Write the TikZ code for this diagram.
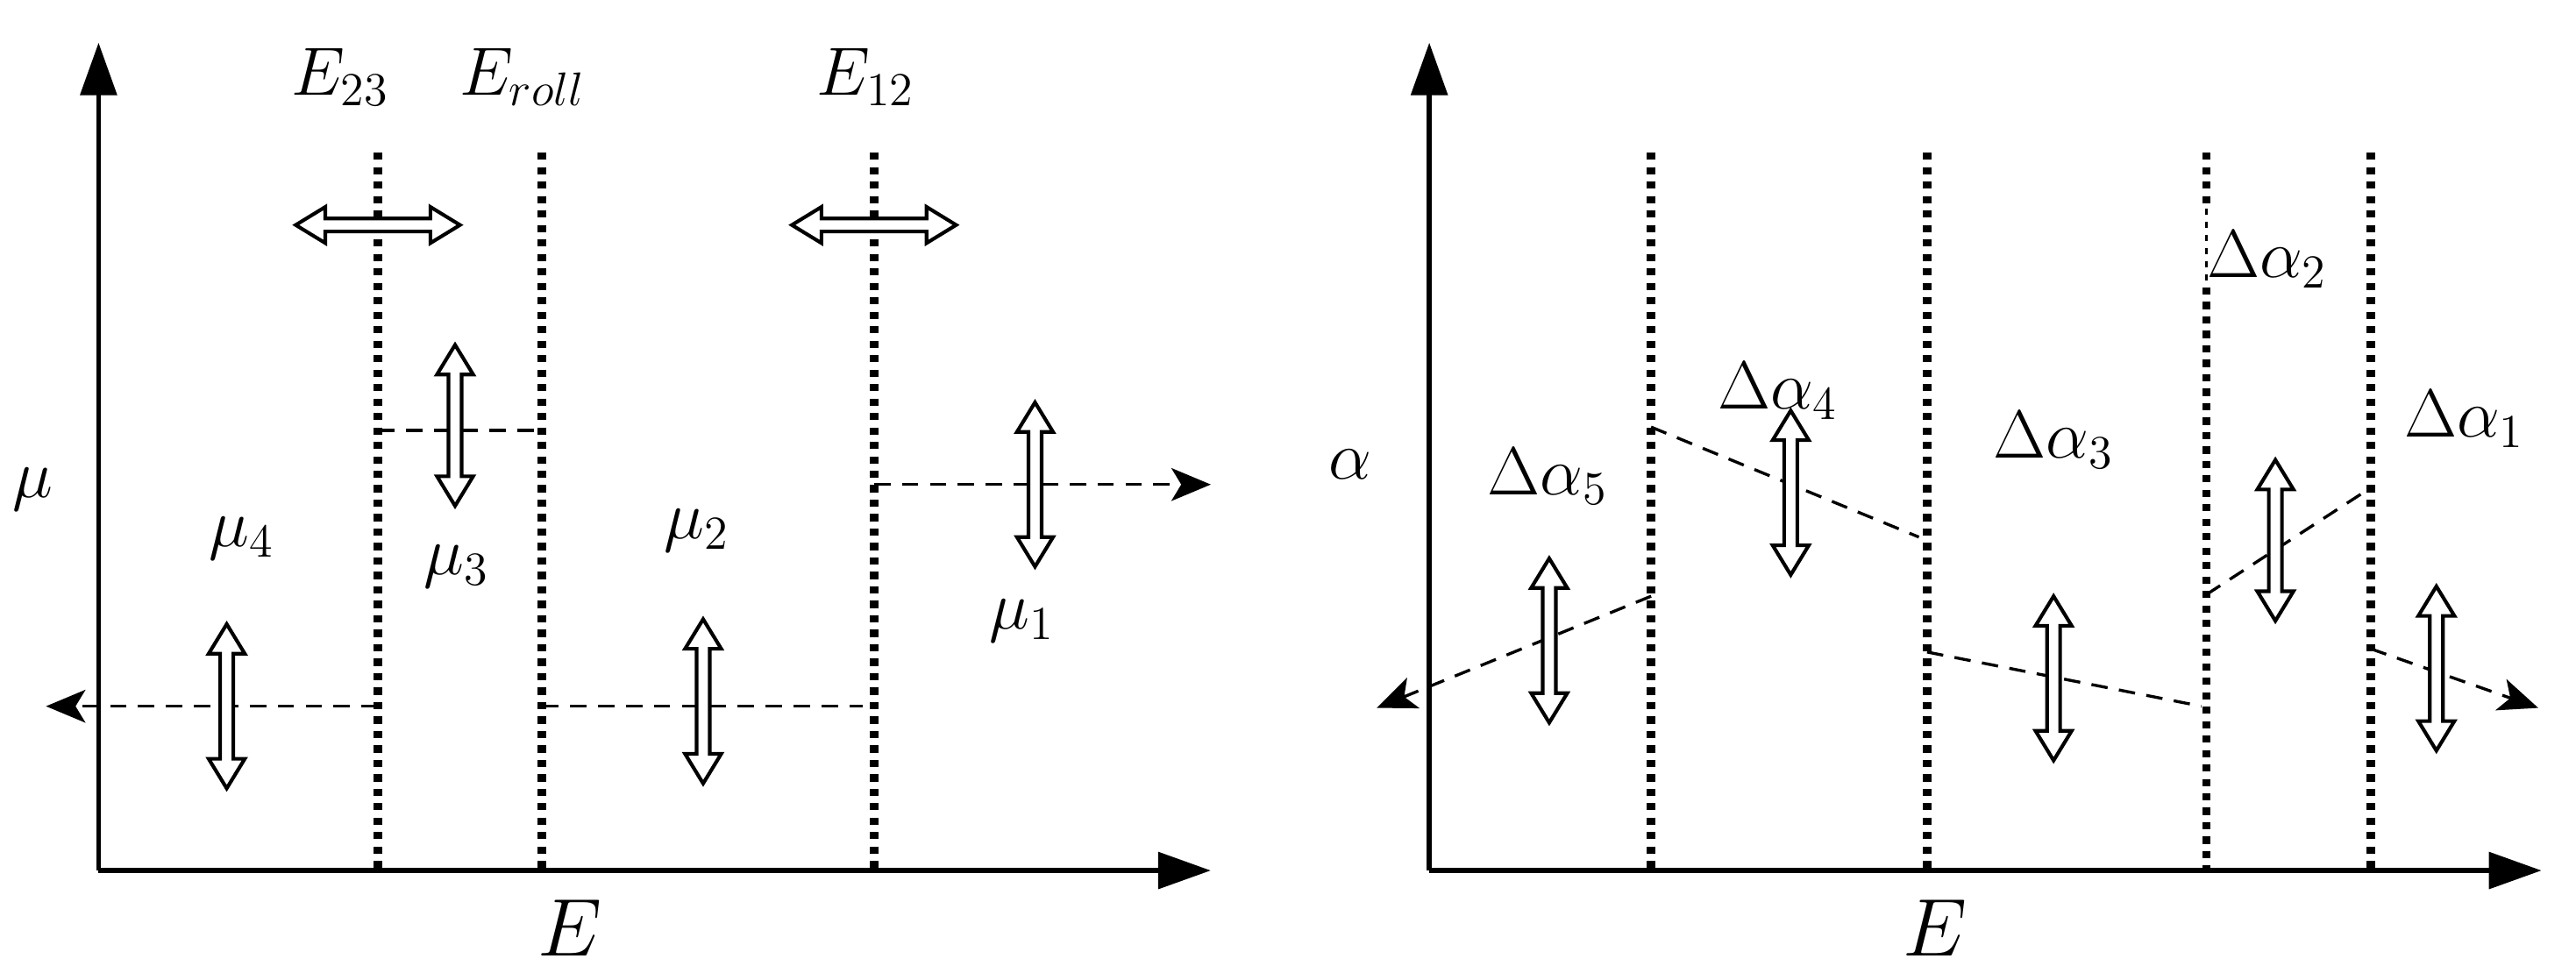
\documentclass[tikz,border=0pt]{standalone}
\usetikzlibrary{arrows.meta}
\newcommand{\darw}[4]{%
 \draw[darr,shift={(#1,#2)},rotate=#4] (-#3/2,0) -- (-#3/2+18,11) -- (-#3/2+18,4) -- (#3/2-18,4) -- (#3/2-18,11) -- (#3/2,0) -- (#3/2-18,-11) -- (#3/2-18,-4) -- (-#3/2+18,-4) -- (-#3/2+18,-11) -- cycle;}
\begin{document}
\begin{tikzpicture}[x=0.5pt,y=-0.5pt,
 ax/.style={line width=1.5pt,-{Stealth[length=16pt,width=11pt,inset=0pt]}},
 dot/.style={line width=2.6pt,dash pattern=on 2.2pt off 2.2pt},
 dsh/.style={line width=0.9pt,dash pattern=on 5pt off 3.5pt},
 dsha/.style={dsh,-{Stealth[length=12pt,width=10pt,inset=3pt]}},
 darr/.style={line width=1.1pt,fill=white},
 lb/.style={font=\fontsize{20}{24}\selectfont},
 bl/.style={font=\fontsize{28}{32}\selectfont}]
\useasboundingbox (0,0) rectangle (1568,592);
% left panel
\coordinate (o1) at (60,530);
\draw[ax] (o1) -- (60,26);
\draw[ax] (o1) -- (737,530);
\foreach \x in {230,330,532} \draw[dot] (\x,93) -- (\x,530);
\draw[dsha] (230,430) -- (28,430);
\draw[dsh] (230,262) -- (330,262);
\draw[dsh] (330,430) -- (525,430);
\draw[dsha] (532,295) -- (737,295);
\darw{230}{137}{100}{0}
\darw{532}{137}{100}{0}
\darw{277}{259}{98}{90}
\darw{630}{295}{100}{90}
\darw{138}{430}{100}{90}
\darw{428}{427}{100}{90}
\node[lb] (e23) at (207,47) {$E_{23}$};
\node[lb] (er) at (318,47) {$E_{roll}$};
\node[lb] (e12) at (527,47) {$E_{12}$};
\node[lb] (mu) at (20,298) {$\mu$};
\node[lb] (m4) at (147,328) {$\mu_4$};
\node[lb] (m3) at (278,345) {$\mu_3$};
\node[lb] (m2) at (424,323) {$\mu_2$};
\node[lb] (m1) at (622,378) {$\mu_1$};
\node[bl] (E1) at (347,565) {$E$};
% right panel
\coordinate (o2) at (870,530);
\draw[ax] (o2) -- (870,26);
\draw[ax] (o2) -- (1547,530);
\foreach \x in {1005,1173,1443} \draw[dot] (\x,93) -- (\x,530);
\draw[dot] (1343,93) -- (1343,127);
\draw[line width=0.8pt,dash pattern=on 2pt off 2pt] (1343,127) -- (1343,175);
\draw[dot] (1343,175) -- (1343,530);
\draw[dsha] (1005,363) -- (838,431);
\draw[dsh] (1005,260) -- (1168,327);
\draw[dsh] (1173,397) -- (1340,430);
\draw[dsh] (1343,362) -- (1443,297);
\draw[dsha] (1443,395) -- (1545,431);
\darw{943}{390}{100}{90}
\darw{1090}{300}{100}{90}
\darw{1250}{413}{100}{90}
\darw{1385}{329}{98}{90}
\darw{1483}{407}{100}{90}
\node[lb] (al) at (822,283) {$\alpha$};
\node[lb] (a5) at (942,290) {$\Delta\alpha_5$};
\node[lb] (a4) at (1082,238) {$\Delta\alpha_4$};
\node[lb] (a3) at (1250,268) {$\Delta\alpha_3$};
\node[lb] (a2) at (1380,158) {$\Delta\alpha_2$};
\node[lb] (a1) at (1500,255) {$\Delta\alpha_1$};
\node[bl] (E2) at (1178,565) {$E$};
\end{tikzpicture}
\end{document}
